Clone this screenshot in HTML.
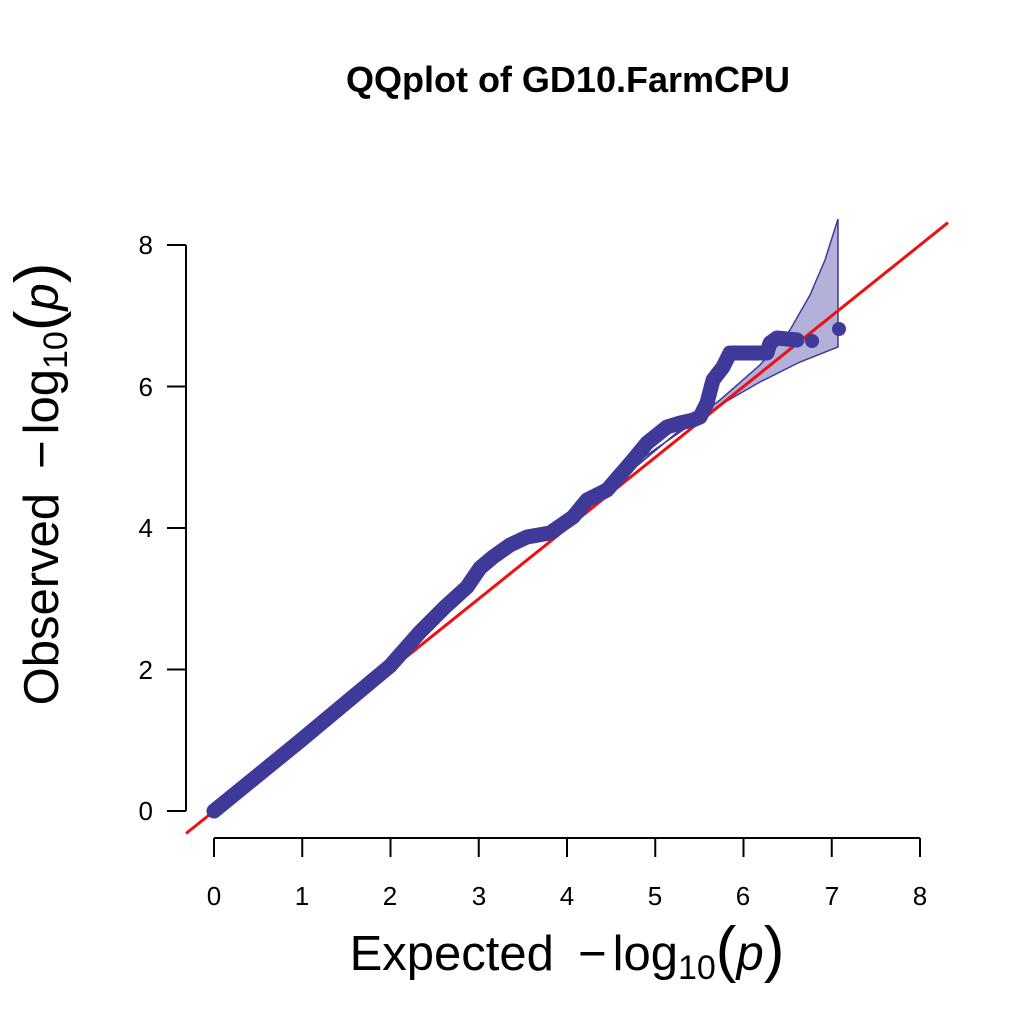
<!DOCTYPE html>
<html><head><style>body{margin:0;background:#fff}</style></head><body>
<svg width="1024" height="1024" xmlns="http://www.w3.org/2000/svg" font-family="Liberation Sans, sans-serif">
<rect width="1024" height="1024" fill="#fff"/>
<text x="568" y="92" font-size="36" font-weight="bold" text-anchor="middle">QQplot of GD10.FarmCPU</text>
<path d="M620,480 L680,430 L720,400 L760,365 L790,330 L810,295 L825,260 L838,219 L838,347 L800,362 L760,382 L720,405 L680,432 L640,460 Z" fill="#b3b0d9" stroke="#3f3999" stroke-width="1.5"/>
<line x1="186" y1="833.5" x2="948" y2="222.6" stroke="#ee1111" stroke-width="3"/>
<polyline fill="none" stroke="#3f3999" stroke-width="15" stroke-linecap="round" stroke-linejoin="round"
points="214,811 300,741 390,666 420,632 445,607 467,587 480,568 493,557 510,545 527,537 550,533 573,517 587,500 607,490 633,460 647,443 667,427 680,423 693,420 700,417 707,403 713,380 723,367 730,353 767,353 770,343 777,338 797,340"/>
<circle cx="812" cy="341" r="7" fill="#3f3999"/>
<circle cx="839" cy="329" r="7" fill="#3f3999"/>
<g stroke="#000" stroke-width="2" fill="none">
<path d="M186,245 V811"/>
<path d="M167,245H186M167,386.5H186M167,528H186M167,669.5H186M167,811H186"/>
<path d="M214,838 H920"/>
<path d="M214,838V857M302.25,838V857M390.5,838V857M478.75,838V857M567,838V857M655.25,838V857M743.5,838V857M831.75,838V857M920,838V857"/>
</g>
<g font-size="26" text-anchor="middle">
<text x="214" y="905">0</text><text x="302" y="905">1</text><text x="390" y="905">2</text><text x="479" y="905">3</text><text x="567" y="905">4</text><text x="655" y="905">5</text><text x="743" y="905">6</text><text x="832" y="905">7</text><text x="920" y="905">8</text>
</g>
<g font-size="26" text-anchor="end">
<text x="153" y="254">8</text><text x="153" y="396">6</text><text x="153" y="537">4</text><text x="153" y="679">2</text><text x="153" y="820">0</text>
</g>
<text x="567" y="970" font-size="49" text-anchor="middle">Expected<tspan dx="24">−</tspan><tspan dx="6">log</tspan><tspan font-size="34" dy="9">10</tspan><tspan dy="-9" font-size="62">(</tspan><tspan font-style="italic">p</tspan><tspan font-size="62">)</tspan></text>
<text transform="translate(58,484) rotate(-90)" font-size="49" text-anchor="middle">Observed<tspan dx="24">−</tspan><tspan dx="6">log</tspan><tspan font-size="34" dy="9">10</tspan><tspan dy="-9" font-size="62">(</tspan><tspan font-style="italic">p</tspan><tspan font-size="62">)</tspan></text>
</svg>
</body></html>
